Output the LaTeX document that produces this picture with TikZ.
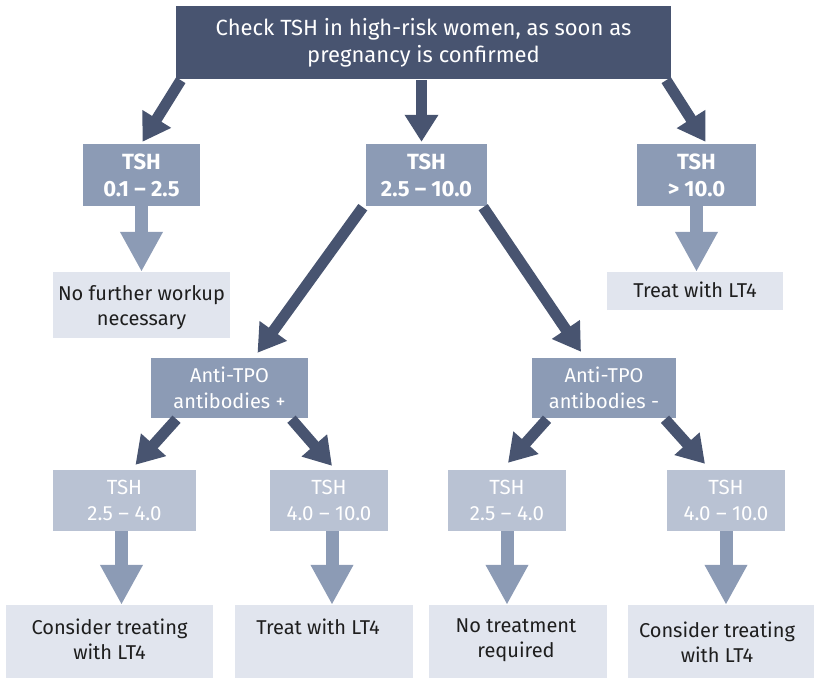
\documentclass[tikz,border=0pt]{standalone}
\usepackage{fontspec}
\setmainfont{Fira Sans}
\usetikzlibrary{arrows.meta,calc}
\definecolor{navy}{HTML}{485470}
\definecolor{midblue}{HTML}{8C9BB5}
\definecolor{paleblue}{HTML}{B9C2D3}
\definecolor{mist}{HTML}{E1E5EE}
\definecolor{ink}{HTML}{1E1E1E}
\tikzset{
  box/.style={rectangle, inner sep=0pt, align=center},
  headbox/.style={box, fill=navy, text=white, font=\fontsize{22}{27}\selectfont},
  rangebox/.style={box, fill=midblue, text=white, font=\bfseries\fontsize{22}{27}\selectfont},
  tpobox/.style={box, fill=midblue, text=white, font=\fontsize{20}{26}\selectfont},
  subbox/.style={box, fill=paleblue, text=white, font=\fontsize{20.5}{26}\selectfont},
  resbox/.style={box, fill=mist},
  restext/.style={box, anchor=north, text=ink, font=\fontsize{20}{25}\selectfont},
  bigarrow/.style={draw=navy, line width=11pt, -{Triangle[width=32pt,length=27pt]}},
  blockarrow/.style={draw=midblue, line width=13pt, -{Triangle[width=40pt,length=40pt]}}
}
\begin{document}
\begin{tikzpicture}[x=1pt,y=-1pt]
\useasboundingbox (0,0) rectangle (815,678);

% first level
\node[headbox, minimum width=495pt, minimum height=73pt] (top) at (423.5,42.5)
  {Check TSH in high-risk women, as soon as\\pregnancy is confirmed};
\node[rangebox, minimum width=117pt, minimum height=62pt] (t1) at (141.5,175) {TSH\\0.1 – 2.5};
\node[rangebox, minimum width=121pt, minimum height=62pt] (t2) at (426.5,175) {TSH\\2.5 – 10.0};
\node[rangebox, minimum width=119pt, minimum height=62pt] (t3) at (696.5,175) {TSH\\> 10.0};

% outcomes of the first level
\node[resbox, minimum width=177pt, minimum height=66pt] (r1) at (141.5,305) {};
\node[restext] (r1t) at ($(r1.north)+(0,13)$) {No further workup\\necessary};
\node[resbox, minimum width=176pt, minimum height=38pt] (r2) at (695,291) {};
\node[restext] (r2t) at ($(r2.north)+(0,10)$) {Treat with LT4};

% antibody status
\node[tpobox, minimum width=157pt, minimum height=60pt] (a1) at (229.5,388) {Anti-TPO\\antibodies +};
\node[tpobox, minimum width=144pt, minimum height=60pt] (a2) at (604,388) {Anti-TPO\\antibodies -};

% TSH sub-ranges
\node[subbox, minimum width=143pt, minimum height=61pt] (s1) at (124.5,500.5) {TSH\\2.5 – 4.0};
\node[subbox, minimum width=118pt, minimum height=61pt] (s2) at (329,500.5) {TSH\\4.0 – 10.0};
\node[subbox, minimum width=118pt, minimum height=61pt] (s3) at (507,500.5) {TSH\\2.5 – 4.0};
\node[subbox, minimum width=118pt, minimum height=61pt] (s4) at (726,500.5) {TSH\\4.0 – 10.0};

% final recommendations
\node[resbox, minimum width=207pt, minimum height=73pt] (b1) at (109.5,641.5) {};
\node[restext] (b1t) at ($(b1.north)+(0,14)$) {Consider treating\\with LT4};
\node[resbox, minimum width=178pt, minimum height=73pt] (b2) at (324,641.5) {};
\node[restext] (b2t) at ($(b2.north)+(-6,14)$) {Treat with LT4};
\node[resbox, minimum width=178pt, minimum height=73pt] (b3) at (518,641.5) {};
\node[restext] (b3t) at ($(b3.north)+(-2,14)$) {No treatment\\required};
\node[resbox, minimum width=186pt, minimum height=73pt] (b4) at (721,641.5) {};
\node[restext] (b4t) at ($(b4.north)+(-4,17)$) {Consider treating\\with LT4};

% dark connectors
\draw[bigarrow] ($(top.south west)+(5,1)$) -- ($(t1.north)+(1,-2)$);
\draw[bigarrow] ($(top.south)+(-2,1)$) -- ($(t2.north)+(-5,-2)$);
\draw[bigarrow] ($(top.south east)+(-5,1)$) -- ($(t3.north)+(9,-2)$);
\draw[bigarrow] ($(t2.south west)+(-3,1)$) -- ($(a1.north)+(28,-5)$);
\draw[bigarrow] ($(t2.south east)+(-4,1)$) -- ($(a2.north)+(-23,-6)$);
\draw[bigarrow] ($(a1.south)+(-53,1)$) -- ($(s1.north)+(11,-5)$);
\draw[bigarrow] ($(a1.south)+(62,1)$) -- ($(s2.north)+(3,-4)$);
\draw[bigarrow] ($(a2.south)+(-57,1)$) -- ($(s3.north)+(1,-7)$);
\draw[bigarrow] ($(a2.south)+(61,1)$) -- ($(s4.north)+(-21,-6)$);

% light block arrows
\draw[blockarrow] (t1.south) -- (t1.south |- r1.north);
\draw[blockarrow] (t3.south) -- (t3.south |- r2.north);
\draw[blockarrow] ($(s1.south)+(-3,0)$) -- ($(s1.south |- b1.north)+(-3,0)$);
\draw[blockarrow] ($(s2.south)+(3,0)$) -- ($(s2.south |- b2.north)+(3,0)$);
\draw[blockarrow] (s3.south) -- (s3.south |- b3.north);
\draw[blockarrow] (s4.south) -- (s4.south |- b4.north);
\end{tikzpicture}
\end{document}
